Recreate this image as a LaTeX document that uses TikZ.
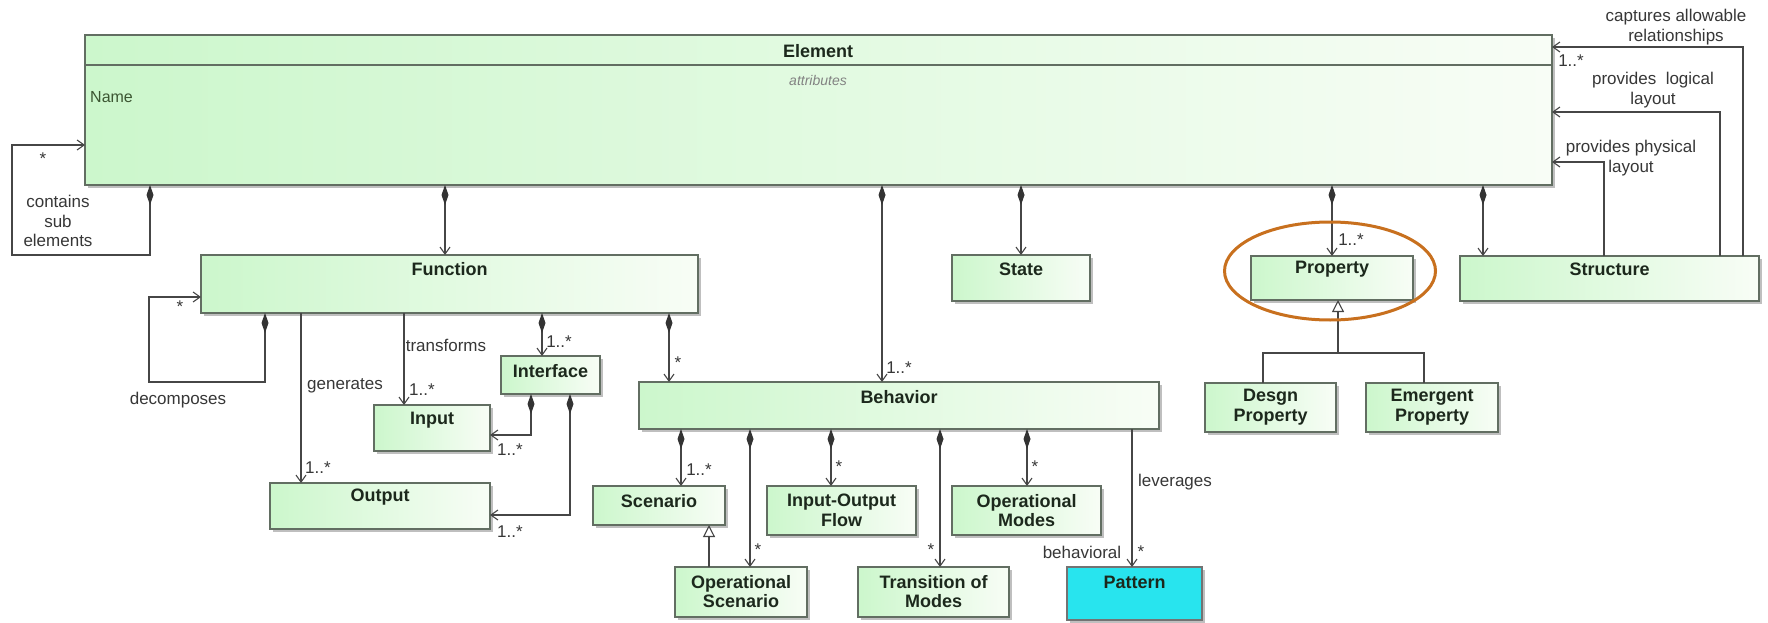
\documentclass[tikz,border=0pt]{standalone}
\usepackage{fontspec}
\setmainfont{Liberation Sans}
\usetikzlibrary{arrows.meta,shapes.geometric,shadows}

\definecolor{boxL}{RGB}{204,247,204}
\definecolor{boxR}{RGB}{248,253,246}
\definecolor{edge}{RGB}{98,110,98}
\definecolor{wire}{RGB}{70,70,70}
\definecolor{ink}{RGB}{28,40,28}
\definecolor{txt}{RGB}{55,55,55}
\definecolor{attr}{RGB}{130,130,130}
\definecolor{namegreen}{RGB}{60,86,50}
\definecolor{patcyan}{RGB}{40,228,238}
\definecolor{ring}{RGB}{200,112,30}

\tikzset{
  cls/.style={draw=edge, line width=1.2pt, left color=boxL, right color=boxR,
    inner sep=0pt, outer sep=0pt,
    drop shadow={shadow xshift=3pt, shadow yshift=-3pt, fill=black, opacity=0.25}},
  cname/.style={font=\fontsize{18}{19.5}\selectfont\bfseries, text=ink, align=center, inner sep=0pt},
  lbl/.style={font=\fontsize{17}{19.5}\selectfont, text=txt, align=center, inner sep=0pt},
  wire/.style={draw=wire, line width=1.1pt},
  comp/.style={wire, {Diamond[length=20pt,width=7pt,color=black!80]}-{Straight Barb[length=7pt,width=10pt]}},
  nav/.style={wire, -{Straight Barb[length=7pt,width=10pt]}},
  gen/.style={wire, -{Triangle[open,length=12pt,width=12pt,fill=white]}}
}

\begin{document}
\begin{tikzpicture}[x=1pt,y=-1pt]
\fill[white] (0,0) rectangle (1768,623);
\useasboundingbox (0,0) rectangle (1768,623);

% ---- classes ----
\node[cls, minimum width=1467pt, minimum height=150pt] (elem) at (818.5,110) {};
\draw[draw=edge, line width=1.2pt] (elem.west |- 0,65) -- (elem.east |- 0,65);
\node[cname] (elemT) at (818,51) {Element};
\node[font=\fontsize{14}{16}\selectfont\itshape, text=attr, inner sep=0pt] (elemA) at (818,80) {attributes};
\node[font=\fontsize{16}{18}\selectfont, text=namegreen, anchor=west, inner sep=0pt] (elemN) at (90,97) {Name};

\node[cls, minimum width=497pt, minimum height=58pt] (fn) at (449.5,284) {};
\node[cname] (fnT) at ([yshift=-14.5pt]fn.north) {Function};

\node[cls, minimum width=138pt, minimum height=46pt] (state) at (1021,278) {};
\node[cname] (stateT) at ([yshift=-14.5pt]state.north) {State};

\node[cls, minimum width=162pt, minimum height=44pt] (prop) at (1332,278) {};
\node[cname] (propT) at ([yshift=-13.5pt]prop.north) {Property};

\node[cls, minimum width=299pt, minimum height=45pt] (struct) at (1609.5,278.5) {};
\node[cname] (structT) at ([yshift=-13.5pt]struct.north) {Structure};

\node[cls, minimum width=99pt, minimum height=38pt] (iface) at (550.5,375) {};
\node[cname] (ifaceT) at ([yshift=-15pt]iface.north) {Interface};

\node[cls, minimum width=116pt, minimum height=46pt] (input) at (432,428) {};
\node[cname] (inputT) at ([yshift=-15pt]input.north) {Input};

\node[cls, minimum width=220pt, minimum height=46pt] (output) at (380,506) {};
\node[cname] (outputT) at ([yshift=-14pt]output.north) {Output};

\node[cls, minimum width=520pt, minimum height=47pt] (beh) at (899,405.5) {};
\node[cname] (behT) at ([yshift=-15pt]beh.north) {Behavior};

\node[cls, minimum width=132pt, minimum height=39pt] (scen) at (659,505.5) {};
\node[cname] (scenT) at ([yshift=-15pt]scen.north) {Scenario};

\node[cls, minimum width=149pt, minimum height=49pt] (ioflow) at (841.5,510.5) {};
\node[cname] (ioflowT) at ([yshift=-24.5pt]ioflow.north) {Input-Output\\Flow};

\node[cls, minimum width=149pt, minimum height=49pt] (opmodes) at (1026.5,510.5) {};
\node[cname] (opmodesT) at ([yshift=-24.5pt]opmodes.north) {Operational\\Modes};

\node[cls, minimum width=132pt, minimum height=50pt] (opscen) at (741,592) {};
\node[cname] (opscenT) at ([yshift=-24.5pt]opscen.north) {Operational\\Scenario};

\node[cls, minimum width=151pt, minimum height=50pt] (trans) at (933.5,592) {};
\node[cname] (transT) at ([yshift=-24.5pt]trans.north) {Transition of\\Modes};

\node[cls, minimum width=135pt, minimum height=53pt, left color=patcyan, right color=patcyan, draw=black!55] (pattern) at (1134.5,593.5) {};
\node[cname] (patternT) at ([yshift=-15pt]pattern.north) {Pattern};

\node[cls, minimum width=131pt, minimum height=49pt] (desgn) at (1270.5,407.5) {};
\node[cname] (desgnT) at ([yshift=-24pt]desgn.north) {Desgn\\Property};

\node[cls, minimum width=132pt, minimum height=49pt] (emerg) at (1432,407.5) {};
\node[cname] (emergT) at ([yshift=-24pt]emerg.north) {Emergent\\Property};

% ---- Element associations ----
\draw[comp] (150,0 |- elem.south) |- (12,255) |- (elem.west |- 0,145);
\node[lbl] (mStarE) at (43,159) {*};
\node[lbl] (contains) at (58,221) {contains\\sub\\elements};

\draw[comp] (445,0 |- elem.south) -- (445,0 |- fn.north);
\draw[comp] (882,0 |- elem.south) -- (882,0 |- beh.north);
\node[lbl] (mBeh) at (899,368) {1..*};
\draw[comp] (1021,0 |- elem.south) -- (1021,0 |- state.north);
\draw[comp] (1332,0 |- elem.south) -- (1332,0 |- prop.north);
\node[lbl] (mProp) at (1351,240) {1..*};
\draw[comp] (1483,0 |- elem.south) -- (1483,0 |- struct.north);

% ---- Structure back to Element ----
\draw[nav] (1743,0 |- struct.north) |- (elem.east |- 0,47);
\node[lbl] (mCap) at (1571,61) {1..*};
\node[lbl] (capT) at (1676,27) {captures allowable\\relationships};
\draw[nav] (1720,0 |- struct.north) |- (elem.east |- 0,112);
\node[lbl] (logT) at (1653,90) {provides\ \ logical\\layout};
\draw[nav] (1604,0 |- struct.north) |- (elem.east |- 0,162);
\node[lbl] (phyT) at (1631,158) {provides physical\\layout};

% ---- Function ----
\draw[comp] (265,0 |- fn.south) |- (149,382) |- (fn.west |- 0,297);
\node[lbl] (mStarF) at (180,307) {*};
\node[lbl] (decT) at (178,400) {decomposes};

\draw[nav] (301,0 |- fn.south) -- (301,0 |- output.north);
\node[lbl] (genT) at (345,386) {generates};
\node[lbl] (mOut) at (318,468) {1..*};

\draw[nav] (404,0 |- fn.south) -- (404,0 |- input.north);
\node[lbl] (traT) at (446,345) {transforms};
\node[lbl] (mIn) at (422,390) {1..*};

\draw[comp] (542,0 |- fn.south) -- (542,0 |- iface.north);
\node[lbl] (mIf) at (559,342) {1..*};

\draw[comp] (669,0 |- fn.south) -- (669,0 |- beh.north);
\node[lbl] (mFB) at (678,363) {*};

% ---- Interface ----
\draw[comp] (531,0 |- iface.south) |- (input.east |- 0,435);
\node[lbl] (mIfIn) at (510,450) {1..*};
\draw[comp] (570,0 |- iface.south) |- (output.east |- 0,515);
\node[lbl] (mIfOut) at (510,532) {1..*};

% ---- Behavior ----
\draw[comp] (681,0 |- beh.south) -- (681,0 |- scen.north);
\node[lbl] (mScen) at (699,470) {1..*};
\draw[comp] (750,0 |- beh.south) -- (750,0 |- opscen.north);
\node[lbl] (mOpS) at (758,550) {*};
\draw[gen] (709,0 |- opscen.north) -- (709,0 |- scen.south);
\draw[comp] (831,0 |- beh.south) -- (831,0 |- ioflow.north);
\node[lbl] (mIO) at (839,467) {*};
\draw[comp] (940,0 |- beh.south) -- (940,0 |- trans.north);
\node[lbl] (mTr) at (931,550) {*};
\draw[comp] (1027,0 |- beh.south) -- (1027,0 |- opmodes.north);
\node[lbl] (mOpM) at (1035,467) {*};
\draw[nav] (1132,0 |- beh.south) -- (1132,0 |- pattern.north);
\node[lbl] (levT) at (1175,482) {leverages};
\node[lbl] (bhvT) at (1082,552) {behavioral};
\node[lbl] (mPat) at (1141,552) {*};

% ---- Property specialisations ----
\coordinate (pjoin) at (1338,353);
\draw[gen] (1263,0 |- desgn.north) |- (pjoin) -- (pjoin |- prop.south);
\draw[wire] (1424,0 |- emerg.north) |- (pjoin);

% ---- highlight ring ----
\node[draw=ring, line width=3pt, ellipse, minimum width=211pt, minimum height=98pt, inner sep=0pt] (hl) at (1330,271) {};
\end{tikzpicture}
\end{document}
